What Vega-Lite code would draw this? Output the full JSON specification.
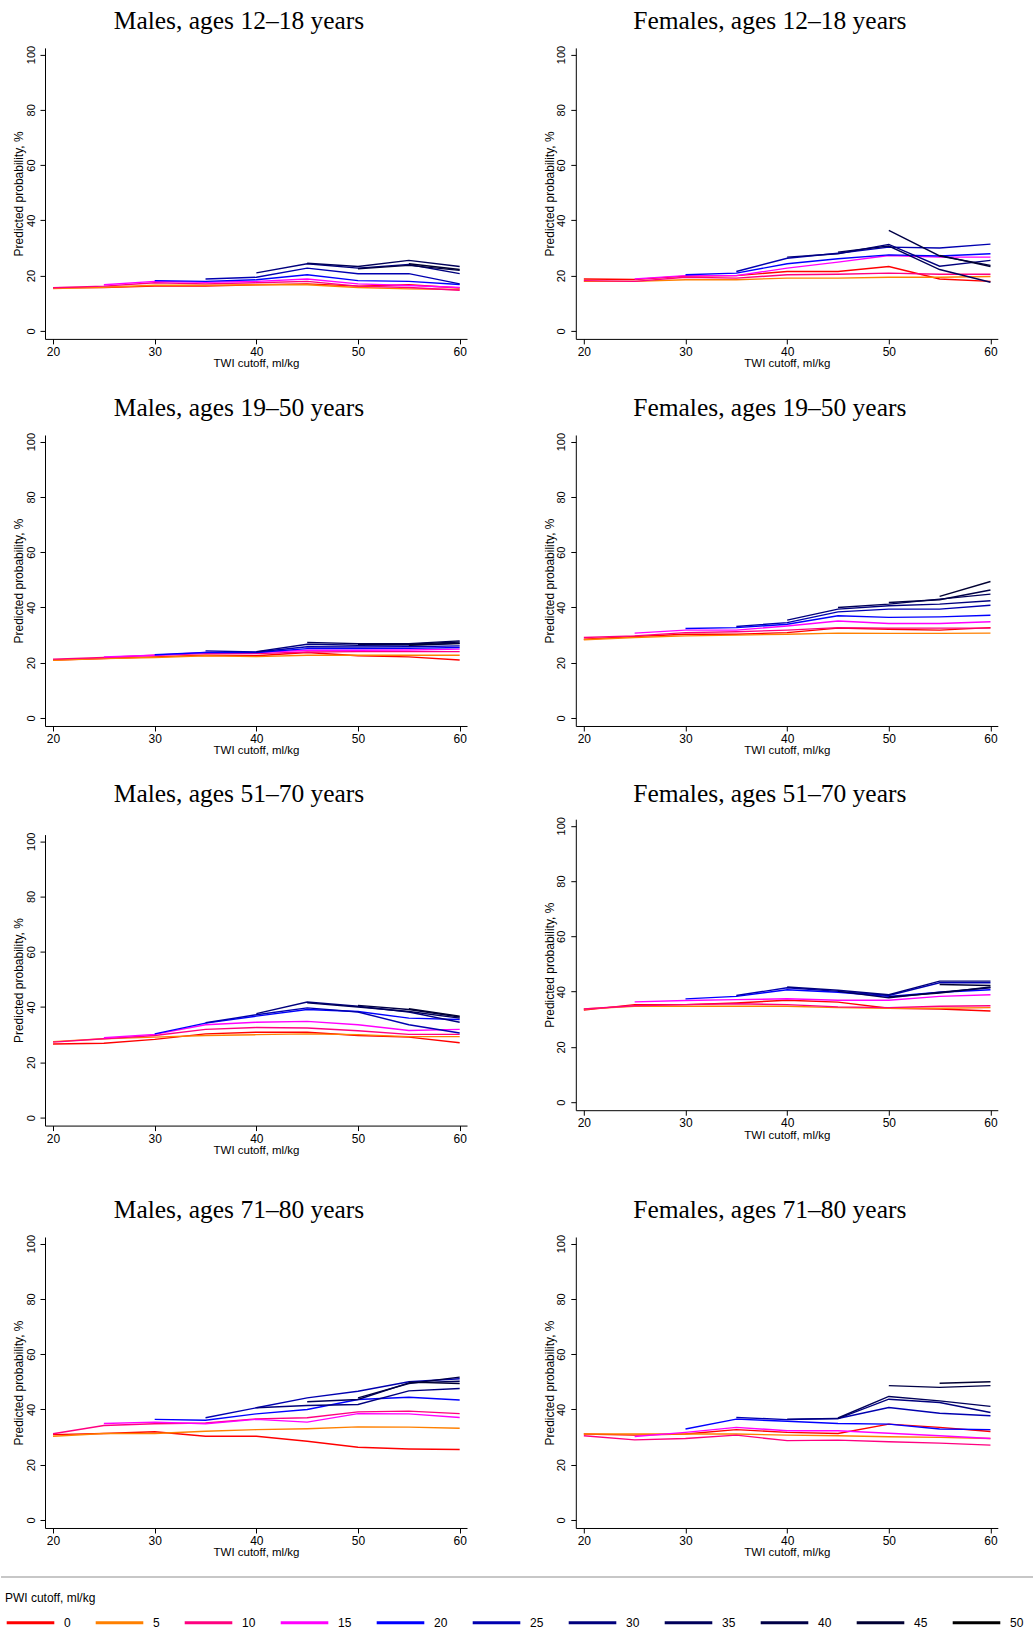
{
"$schema": "https://vega.github.io/schema/vega-lite/v6.json",
"padding": {"left": 0, "top": 8.9, "right": 0, "bottom": 0},
"config": {
  "view": {"stroke": null},
  "font": "Liberation Sans",
  "title": {"font": "Liberation Serif", "fontSize": 25.5, "fontWeight": "normal", "color": "#000000", "anchor": "middle", "frame": "group", "baseline": "alphabetic"},
  "axis": {"domainColor": "#000000", "domainWidth": 1, "tickColor": "#000000", "tickWidth": 1, "tickSize": 5, "labelColor": "#000000", "titleColor": "#000000", "grid": false, "titleFontWeight": "normal", "titleFontSize": 12, "labelFont": "Liberation Sans", "titleFont": "Liberation Sans", "labelFlush": false, "labelOverlap": false, "labelBound": false},
  "axisX": {"labelFontSize": 12, "labelBaseline": "alphabetic", "labelPadding": 11.5, "titleFontSize": 11.5, "titleX": 211, "titleY": 28, "titleBaseline": "alphabetic", "titleAlign": "center"},
  "axisY": {"labelFontSize": 11, "labelAngle": 270, "labelAlign": "center", "labelBaseline": "alphabetic", "labelPadding": 6, "titleAngle": 270, "titleX": -22.2, "titleY": 145.5, "titleAlign": "center", "titleBaseline": "alphabetic"},
  "legend": {"padding": 0, "titleFontSize": 12, "titleFontWeight": "normal", "titleColor": "#000000", "labelFontSize": 12, "labelColor": "#000000", "titleFont": "Liberation Sans", "labelFont": "Liberation Sans"}
},
"datasets": {
"m1": [
{"w":0,"t":20,"v":15.6},{"w":0,"t":25,"v":15.7},{"w":0,"t":30,"v":16.2},{"w":0,"t":35,"v":16.2},{"w":0,"t":40,"v":16.7},{"w":0,"t":45,"v":17.0},{"w":0,"t":50,"v":16.2},{"w":0,"t":55,"v":16.7},{"w":0,"t":60,"v":15.5},
{"w":5,"t":20,"v":15.3},{"w":5,"t":25,"v":15.8},{"w":5,"t":30,"v":16.5},{"w":5,"t":35,"v":16.5},{"w":5,"t":40,"v":16.7},{"w":5,"t":45,"v":16.7},{"w":5,"t":50,"v":15.7},{"w":5,"t":55,"v":15.2},{"w":5,"t":60,"v":15.0},
{"w":10,"t":20,"v":15.6},{"w":10,"t":25,"v":16.2},{"w":10,"t":30,"v":17.4},{"w":10,"t":35,"v":17.0},{"w":10,"t":40,"v":17.4},{"w":10,"t":45,"v":17.9},{"w":10,"t":50,"v":16.2},{"w":10,"t":55,"v":15.7},{"w":10,"t":60,"v":14.7},
{"w":15,"t":25,"v":16.7},{"w":15,"t":30,"v":17.9},{"w":15,"t":35,"v":17.6},{"w":15,"t":40,"v":17.9},{"w":15,"t":45,"v":18.8},{"w":15,"t":50,"v":17.0},{"w":15,"t":55,"v":16.4},{"w":15,"t":60,"v":15.7},
{"w":20,"t":30,"v":18.2},{"w":20,"t":35,"v":17.9},{"w":20,"t":40,"v":18.5},{"w":20,"t":45,"v":20.3},{"w":20,"t":50,"v":18.2},{"w":20,"t":55,"v":17.9},{"w":20,"t":60,"v":16.8},
{"w":25,"t":35,"v":18.8},{"w":25,"t":40,"v":19.4},{"w":25,"t":45,"v":22.7},{"w":25,"t":50,"v":20.7},{"w":25,"t":55,"v":20.7},{"w":25,"t":60,"v":17.0},
{"w":30,"t":40,"v":21.0},{"w":30,"t":45,"v":24.3},{"w":30,"t":50,"v":22.7},{"w":30,"t":55,"v":24.0},{"w":30,"t":60,"v":20.7},
{"w":35,"t":45,"v":24.5},{"w":35,"t":50,"v":23.3},{"w":35,"t":55,"v":25.5},{"w":35,"t":60,"v":23.3},
{"w":40,"t":50,"v":22.5},{"w":40,"t":55,"v":23.7},{"w":40,"t":60,"v":21.9},
{"w":45,"t":55,"v":24.3},{"w":45,"t":60,"v":22.2},
{"w":50,"t":60,"v":22.7}
],
"f1": [
{"w":0,"t":20,"v":18.8},{"w":0,"t":25,"v":18.6},{"w":0,"t":30,"v":19.8},{"w":0,"t":35,"v":20.0},{"w":0,"t":40,"v":21.5},{"w":0,"t":45,"v":21.5},{"w":0,"t":50,"v":23.3},{"w":0,"t":55,"v":18.8},{"w":0,"t":60,"v":17.9},
{"w":5,"t":20,"v":17.9},{"w":5,"t":25,"v":17.9},{"w":5,"t":30,"v":18.5},{"w":5,"t":35,"v":18.5},{"w":5,"t":40,"v":19.1},{"w":5,"t":45,"v":19.1},{"w":5,"t":50,"v":19.4},{"w":5,"t":55,"v":19.4},{"w":5,"t":60,"v":19.7},
{"w":10,"t":20,"v":18.2},{"w":10,"t":25,"v":17.9},{"w":10,"t":30,"v":19.4},{"w":10,"t":35,"v":19.1},{"w":10,"t":40,"v":20.3},{"w":10,"t":45,"v":20.5},{"w":10,"t":50,"v":20.9},{"w":10,"t":55,"v":20.5},{"w":10,"t":60,"v":20.5},
{"w":15,"t":25,"v":18.8},{"w":15,"t":30,"v":20.0},{"w":15,"t":35,"v":20.0},{"w":15,"t":40,"v":22.7},{"w":15,"t":45,"v":24.9},{"w":15,"t":50,"v":27.3},{"w":15,"t":55,"v":26.7},{"w":15,"t":60,"v":26.7},
{"w":20,"t":30,"v":20.3},{"w":20,"t":35,"v":20.9},{"w":20,"t":40,"v":24.3},{"w":20,"t":45,"v":26.1},{"w":20,"t":50,"v":27.5},{"w":20,"t":55,"v":27.1},{"w":20,"t":60,"v":27.9},
{"w":25,"t":35,"v":21.5},{"w":25,"t":40,"v":26.3},{"w":25,"t":45,"v":28.1},{"w":25,"t":50,"v":30.3},{"w":25,"t":55,"v":30.0},{"w":25,"t":60,"v":31.4},
{"w":30,"t":40,"v":26.7},{"w":30,"t":45,"v":27.9},{"w":30,"t":50,"v":31.3},{"w":30,"t":55,"v":23.4},{"w":30,"t":60,"v":25.5},
{"w":35,"t":45,"v":28.5},{"w":35,"t":50,"v":30.7},{"w":35,"t":55,"v":22.2},{"w":35,"t":60,"v":17.6},
{"w":40,"t":50,"v":36.4},{"w":40,"t":55,"v":27.1},{"w":40,"t":60,"v":23.7},
{"w":45,"t":55,"v":27.3},{"w":45,"t":60,"v":23.3},
{"w":50,"t":60,"v":23.5}
],
"m2": [
{"w":0,"t":20,"v":21.0},{"w":0,"t":25,"v":21.5},{"w":0,"t":30,"v":22.1},{"w":0,"t":35,"v":22.7},{"w":0,"t":40,"v":22.5},{"w":0,"t":45,"v":23.7},{"w":0,"t":50,"v":22.5},{"w":0,"t":55,"v":22.1},{"w":0,"t":60,"v":21.0},
{"w":5,"t":20,"v":20.9},{"w":5,"t":25,"v":21.5},{"w":5,"t":30,"v":21.9},{"w":5,"t":35,"v":22.5},{"w":5,"t":40,"v":22.2},{"w":5,"t":45,"v":22.7},{"w":5,"t":50,"v":22.7},{"w":5,"t":55,"v":22.7},{"w":5,"t":60,"v":22.7},
{"w":10,"t":20,"v":21.3},{"w":10,"t":25,"v":21.9},{"w":10,"t":30,"v":22.7},{"w":10,"t":35,"v":23.3},{"w":10,"t":40,"v":23.3},{"w":10,"t":45,"v":23.9},{"w":10,"t":50,"v":24.0},{"w":10,"t":55,"v":24.0},{"w":10,"t":60,"v":24.0},
{"w":15,"t":25,"v":22.1},{"w":15,"t":30,"v":22.7},{"w":15,"t":35,"v":23.7},{"w":15,"t":40,"v":23.7},{"w":15,"t":45,"v":24.5},{"w":15,"t":50,"v":24.5},{"w":15,"t":55,"v":24.6},{"w":15,"t":60,"v":24.9},
{"w":20,"t":30,"v":22.9},{"w":20,"t":35,"v":23.7},{"w":20,"t":40,"v":23.7},{"w":20,"t":45,"v":25.1},{"w":20,"t":50,"v":25.1},{"w":20,"t":55,"v":25.2},{"w":20,"t":60,"v":25.5},
{"w":25,"t":35,"v":24.3},{"w":25,"t":40,"v":23.9},{"w":25,"t":45,"v":25.8},{"w":25,"t":50,"v":25.7},{"w":25,"t":55,"v":25.8},{"w":25,"t":60,"v":26.1},
{"w":30,"t":40,"v":24.0},{"w":30,"t":45,"v":26.7},{"w":30,"t":50,"v":26.3},{"w":30,"t":55,"v":26.4},{"w":30,"t":60,"v":27.1},
{"w":35,"t":45,"v":27.3},{"w":35,"t":50,"v":26.9},{"w":35,"t":55,"v":26.9},{"w":35,"t":60,"v":27.9},
{"w":40,"t":50,"v":26.7},{"w":40,"t":55,"v":26.7},{"w":40,"t":60,"v":27.5},
{"w":45,"t":55,"v":26.3},{"w":45,"t":60,"v":26.9},
{"w":50,"t":60,"v":27.9}
],
"f2": [
{"w":0,"t":20,"v":28.5},{"w":0,"t":25,"v":29.5},{"w":0,"t":30,"v":30.3},{"w":0,"t":35,"v":30.3},{"w":0,"t":40,"v":30.9},{"w":0,"t":45,"v":32.5},{"w":0,"t":50,"v":32.1},{"w":0,"t":55,"v":31.8},{"w":0,"t":60,"v":32.7},
{"w":5,"t":20,"v":28.3},{"w":5,"t":25,"v":29.1},{"w":5,"t":30,"v":29.7},{"w":5,"t":35,"v":30.0},{"w":5,"t":40,"v":30.3},{"w":5,"t":45,"v":30.7},{"w":5,"t":50,"v":30.6},{"w":5,"t":55,"v":30.6},{"w":5,"t":60,"v":30.7},
{"w":10,"t":20,"v":29.1},{"w":10,"t":25,"v":29.7},{"w":10,"t":30,"v":30.9},{"w":10,"t":35,"v":31.2},{"w":10,"t":40,"v":31.8},{"w":10,"t":45,"v":32.7},{"w":10,"t":50,"v":32.5},{"w":10,"t":55,"v":32.5},{"w":10,"t":60,"v":32.5},
{"w":15,"t":25,"v":30.7},{"w":15,"t":30,"v":31.8},{"w":15,"t":35,"v":31.8},{"w":15,"t":40,"v":33.3},{"w":15,"t":45,"v":35.1},{"w":15,"t":50,"v":34.2},{"w":15,"t":55,"v":34.2},{"w":15,"t":60,"v":34.8},
{"w":20,"t":30,"v":32.4},{"w":20,"t":35,"v":32.7},{"w":20,"t":40,"v":33.9},{"w":20,"t":45,"v":37.0},{"w":20,"t":50,"v":36.4},{"w":20,"t":55,"v":36.6},{"w":20,"t":60,"v":37.2},
{"w":25,"t":35,"v":33.1},{"w":25,"t":40,"v":34.5},{"w":25,"t":45,"v":38.4},{"w":25,"t":50,"v":39.4},{"w":25,"t":55,"v":39.4},{"w":25,"t":60,"v":40.8},
{"w":30,"t":40,"v":35.4},{"w":30,"t":45,"v":39.4},{"w":30,"t":50,"v":40.6},{"w":30,"t":55,"v":41.2},{"w":30,"t":60,"v":42.4},
{"w":35,"t":45,"v":40.0},{"w":35,"t":50,"v":41.2},{"w":35,"t":55,"v":43.0},{"w":35,"t":60,"v":44.8},
{"w":40,"t":50,"v":41.8},{"w":40,"t":55,"v":42.8},{"w":40,"t":60,"v":46.3},
{"w":45,"t":55,"v":44.0},{"w":45,"t":60,"v":49.4},
{"w":50,"t":60,"v":45.4}
],
"m3": [
{"w":0,"t":20,"v":26.6},{"w":0,"t":25,"v":26.9},{"w":0,"t":30,"v":28.3},{"w":0,"t":35,"v":30.3},{"w":0,"t":40,"v":30.9},{"w":0,"t":45,"v":30.9},{"w":0,"t":50,"v":29.7},{"w":0,"t":55,"v":29.1},{"w":0,"t":60,"v":27.1},
{"w":5,"t":20,"v":27.5},{"w":5,"t":25,"v":28.5},{"w":5,"t":30,"v":29.1},{"w":5,"t":35,"v":29.7},{"w":5,"t":40,"v":30.0},{"w":5,"t":45,"v":30.3},{"w":5,"t":50,"v":30.0},{"w":5,"t":55,"v":29.3},{"w":5,"t":60,"v":29.3},
{"w":10,"t":20,"v":27.3},{"w":10,"t":25,"v":28.5},{"w":10,"t":30,"v":29.7},{"w":10,"t":35,"v":31.9},{"w":10,"t":40,"v":32.6},{"w":10,"t":45,"v":32.4},{"w":10,"t":50,"v":31.4},{"w":10,"t":55,"v":30.1},{"w":10,"t":60,"v":30.1},
{"w":15,"t":25,"v":28.9},{"w":15,"t":30,"v":30.1},{"w":15,"t":35,"v":33.6},{"w":15,"t":40,"v":34.5},{"w":15,"t":45,"v":34.8},{"w":15,"t":50,"v":33.6},{"w":15,"t":55,"v":31.5},{"w":15,"t":60,"v":31.9},
{"w":20,"t":30,"v":30.3},{"w":20,"t":35,"v":34.2},{"w":20,"t":40,"v":36.7},{"w":20,"t":45,"v":39.1},{"w":20,"t":50,"v":38.4},{"w":20,"t":55,"v":36.0},{"w":20,"t":60,"v":35.5},
{"w":25,"t":35,"v":34.3},{"w":25,"t":40,"v":37.2},{"w":25,"t":45,"v":39.7},{"w":25,"t":50,"v":38.2},{"w":25,"t":55,"v":33.6},{"w":25,"t":60,"v":30.6},
{"w":30,"t":40,"v":37.6},{"w":30,"t":45,"v":41.8},{"w":30,"t":50,"v":40.3},{"w":30,"t":55,"v":38.2},{"w":30,"t":60,"v":34.5},
{"w":35,"t":45,"v":41.5},{"w":35,"t":50,"v":40.0},{"w":35,"t":55,"v":38.4},{"w":35,"t":60,"v":36.0},
{"w":40,"t":50,"v":40.6},{"w":40,"t":55,"v":39.1},{"w":40,"t":60,"v":36.4},
{"w":45,"t":55,"v":39.4},{"w":45,"t":60,"v":36.7},
{"w":50,"t":60,"v":36.4}
],
"f3": [
{"w":0,"t":20,"v":33.3},{"w":0,"t":25,"v":35.3},{"w":0,"t":30,"v":35.3},{"w":0,"t":35,"v":35.9},{"w":0,"t":40,"v":36.9},{"w":0,"t":45,"v":36.2},{"w":0,"t":50,"v":34.0},{"w":0,"t":55,"v":33.7},{"w":0,"t":60,"v":33.0},
{"w":5,"t":20,"v":33.7},{"w":5,"t":25,"v":34.7},{"w":5,"t":30,"v":34.7},{"w":5,"t":35,"v":34.7},{"w":5,"t":40,"v":34.7},{"w":5,"t":45,"v":34.2},{"w":5,"t":50,"v":34.0},{"w":5,"t":55,"v":34.0},{"w":5,"t":60,"v":34.2},
{"w":10,"t":20,"v":33.7},{"w":10,"t":25,"v":34.9},{"w":10,"t":30,"v":35.3},{"w":10,"t":35,"v":35.6},{"w":10,"t":40,"v":35.3},{"w":10,"t":45,"v":34.5},{"w":10,"t":50,"v":34.2},{"w":10,"t":55,"v":34.7},{"w":10,"t":60,"v":34.9},
{"w":15,"t":25,"v":36.3},{"w":15,"t":30,"v":36.8},{"w":15,"t":35,"v":37.1},{"w":15,"t":40,"v":37.4},{"w":15,"t":45,"v":36.9},{"w":15,"t":50,"v":36.9},{"w":15,"t":55,"v":38.3},{"w":15,"t":60,"v":38.9},
{"w":20,"t":30,"v":37.4},{"w":20,"t":35,"v":38.3},{"w":20,"t":40,"v":40.7},{"w":20,"t":45,"v":39.8},{"w":20,"t":50,"v":38.3},{"w":20,"t":55,"v":39.8},{"w":20,"t":60,"v":40.7},
{"w":25,"t":35,"v":38.6},{"w":25,"t":40,"v":41.4},{"w":25,"t":45,"v":40.1},{"w":25,"t":50,"v":38.6},{"w":25,"t":55,"v":43.2},{"w":25,"t":60,"v":43.2},
{"w":30,"t":40,"v":41.7},{"w":30,"t":45,"v":40.5},{"w":30,"t":50,"v":38.9},{"w":30,"t":55,"v":43.8},{"w":30,"t":60,"v":43.8},
{"w":35,"t":45,"v":40.1},{"w":35,"t":50,"v":37.8},{"w":35,"t":55,"v":39.8},{"w":35,"t":60,"v":41.4},
{"w":40,"t":50,"v":38.1},{"w":40,"t":55,"v":39.5},{"w":40,"t":60,"v":41.7},
{"w":45,"t":55,"v":42.6},{"w":45,"t":60,"v":42.2},
{"w":50,"t":60,"v":42.0}
],
"m4": [
{"w":0,"t":20,"v":30.9},{"w":0,"t":25,"v":31.3},{"w":0,"t":30,"v":31.9},{"w":0,"t":35,"v":30.3},{"w":0,"t":40,"v":30.3},{"w":0,"t":45,"v":28.5},{"w":0,"t":50,"v":26.3},{"w":0,"t":55,"v":25.7},{"w":0,"t":60,"v":25.5},
{"w":5,"t":20,"v":30.3},{"w":5,"t":25,"v":31.3},{"w":5,"t":30,"v":31.3},{"w":5,"t":35,"v":32.1},{"w":5,"t":40,"v":32.7},{"w":5,"t":45,"v":33.0},{"w":5,"t":50,"v":33.7},{"w":5,"t":55,"v":33.6},{"w":5,"t":60,"v":33.2},
{"w":10,"t":20,"v":31.2},{"w":10,"t":25,"v":34.2},{"w":10,"t":30,"v":34.8},{"w":10,"t":35,"v":35.1},{"w":10,"t":40,"v":36.6},{"w":10,"t":45,"v":37.0},{"w":10,"t":50,"v":39.1},{"w":10,"t":55,"v":39.4},{"w":10,"t":60,"v":38.5},
{"w":15,"t":25,"v":34.9},{"w":15,"t":30,"v":35.4},{"w":15,"t":35,"v":34.8},{"w":15,"t":40,"v":36.4},{"w":15,"t":45,"v":35.4},{"w":15,"t":50,"v":38.5},{"w":15,"t":55,"v":38.4},{"w":15,"t":60,"v":37.1},
{"w":20,"t":30,"v":36.4},{"w":20,"t":35,"v":36.1},{"w":20,"t":40,"v":38.4},{"w":20,"t":45,"v":40.0},{"w":20,"t":50,"v":43.6},{"w":20,"t":55,"v":44.4},{"w":20,"t":60,"v":43.4},
{"w":25,"t":35,"v":37.0},{"w":25,"t":40,"v":40.6},{"w":25,"t":45,"v":44.2},{"w":25,"t":50,"v":46.6},{"w":25,"t":55,"v":50.0},{"w":25,"t":60,"v":51.1},
{"w":30,"t":40,"v":40.6},{"w":30,"t":45,"v":41.4},{"w":30,"t":50,"v":41.8},{"w":30,"t":55,"v":46.7},{"w":30,"t":60,"v":47.6},
{"w":35,"t":45,"v":42.8},{"w":35,"t":50,"v":43.6},{"w":35,"t":55,"v":49.6},{"w":35,"t":60,"v":50.2},
{"w":40,"t":50,"v":44.2},{"w":40,"t":55,"v":49.4},{"w":40,"t":60,"v":51.7},
{"w":45,"t":55,"v":49.9},{"w":45,"t":60,"v":49.4},
{"w":50,"t":60,"v":50.8}
],
"f4": [
{"w":0,"t":20,"v":31.1},{"w":0,"t":25,"v":30.7},{"w":0,"t":30,"v":31.1},{"w":0,"t":35,"v":32.7},{"w":0,"t":40,"v":31.7},{"w":0,"t":45,"v":31.3},{"w":0,"t":50,"v":34.7},{"w":0,"t":55,"v":33.5},{"w":0,"t":60,"v":32.0},
{"w":5,"t":20,"v":31.1},{"w":5,"t":25,"v":31.1},{"w":5,"t":30,"v":31.1},{"w":5,"t":35,"v":31.1},{"w":5,"t":40,"v":30.7},{"w":5,"t":45,"v":30.5},{"w":5,"t":50,"v":30.1},{"w":5,"t":55,"v":29.9},{"w":5,"t":60,"v":29.5},
{"w":10,"t":20,"v":30.5},{"w":10,"t":25,"v":29.0},{"w":10,"t":30,"v":29.5},{"w":10,"t":35,"v":30.7},{"w":10,"t":40,"v":28.7},{"w":10,"t":45,"v":28.9},{"w":10,"t":50,"v":28.3},{"w":10,"t":55,"v":27.8},{"w":10,"t":60,"v":27.1},
{"w":15,"t":25,"v":30.2},{"w":15,"t":30,"v":31.7},{"w":15,"t":35,"v":33.5},{"w":15,"t":40,"v":32.3},{"w":15,"t":45,"v":32.3},{"w":15,"t":50,"v":31.4},{"w":15,"t":55,"v":30.5},{"w":15,"t":60,"v":29.5},
{"w":20,"t":30,"v":32.9},{"w":20,"t":35,"v":36.5},{"w":20,"t":40,"v":35.7},{"w":20,"t":45,"v":34.9},{"w":20,"t":50,"v":34.7},{"w":20,"t":55,"v":32.9},{"w":20,"t":60,"v":32.7},
{"w":25,"t":35,"v":37.1},{"w":25,"t":40,"v":36.3},{"w":25,"t":45,"v":36.7},{"w":25,"t":50,"v":40.7},{"w":25,"t":55,"v":38.6},{"w":25,"t":60,"v":37.7},
{"w":30,"t":40,"v":36.5},{"w":30,"t":45,"v":36.7},{"w":30,"t":50,"v":43.7},{"w":30,"t":55,"v":42.5},{"w":30,"t":60,"v":38.9},
{"w":35,"t":45,"v":36.9},{"w":35,"t":50,"v":44.7},{"w":35,"t":55,"v":43.1},{"w":35,"t":60,"v":41.1},
{"w":40,"t":50,"v":48.6},{"w":40,"t":55,"v":48.0},{"w":40,"t":60,"v":48.6},
{"w":45,"t":55,"v":49.5},{"w":45,"t":60,"v":50.0},
{"w":50,"t":60,"v":49.8}
]
},
"vconcat": [
 {"vconcat": [
  {"vconcat": [
   {"vconcat": [
    {"hconcat": [
     {"width": 422, "height": 291, "title": {"text": "Males, ages 12–18 years", "offset": 10.6, "dx": -17}, "data": {"name": "m1"}, "mark": {"type": "line", "strokeWidth": 1.4},
      "encoding": {"x": {"field": "t", "type": "quantitative", "scale": {"domain": [19.21, 60.72], "nice": false, "zero": false}, "axis": {"values": [20,30,40,50,60], "title": "TWI cutoff, ml/kg"}},
       "y": {"field": "v", "type": "quantitative", "scale": {"domain": [-2.9, 102.4], "nice": false, "zero": false}, "axis": {"values": [0,20,40,60,80,100], "title": "Predicted probability, %"}},
       "color": {"field": "w", "type": "ordinal", "scale": {"domain": [0,5,10,15,20,25,30,35,40,45,50], "range": ["#FF0000","#FF8000","#FF0080","#FF00FF","#0000FF","#0000B0","#00007D","#00005A","#000046","#000032","#000000"]},
        "legend": {"title": "PWI cutoff, ml/kg", "orient": "none", "legendX": -40, "legendY": 1545, "direction": "horizontal", "columns": 11, "symbolType": "stroke", "symbolSize": 2266, "symbolStrokeWidth": 3, "labelOffset": 8, "columnPadding": 18, "titlePadding": -8}}}},
     {"width": 422, "height": 291, "title": {"text": "Females, ages 12–18 years", "offset": 10.6, "dx": -17}, "data": {"name": "f1"}, "mark": {"type": "line", "strokeWidth": 1.4},
      "encoding": {"x": {"field": "t", "type": "quantitative", "scale": {"domain": [19.21, 60.72], "nice": false, "zero": false}, "axis": {"values": [20,30,40,50,60], "title": "TWI cutoff, ml/kg"}},
       "y": {"field": "v", "type": "quantitative", "scale": {"domain": [-2.9, 102.4], "nice": false, "zero": false}, "axis": {"values": [0,20,40,60,80,100], "title": "Predicted probability, %"}},
       "color": {"field": "w", "type": "ordinal", "scale": {"domain": [0,5,10,15,20,25,30,35,40,45,50], "range": ["#FF0000","#FF8000","#FF0080","#FF00FF","#0000FF","#0000B0","#00007D","#00005A","#000046","#000032","#000000"]},
        "legend": {"title": "PWI cutoff, ml/kg", "orient": "none", "legendX": -40, "legendY": 1545, "direction": "horizontal", "columns": 11, "symbolType": "stroke", "symbolSize": 2266, "symbolStrokeWidth": 3, "labelOffset": 8, "columnPadding": 18, "titlePadding": -8}}}}
    ], "spacing": 75.8},
    {"hconcat": [
     {"width": 422, "height": 291, "title": {"text": "Males, ages 19–50 years", "offset": 10.6, "dx": -17}, "data": {"name": "m2"}, "mark": {"type": "line", "strokeWidth": 1.4},
      "encoding": {"x": {"field": "t", "type": "quantitative", "scale": {"domain": [19.21, 60.72], "nice": false, "zero": false}, "axis": {"values": [20,30,40,50,60], "title": "TWI cutoff, ml/kg"}},
       "y": {"field": "v", "type": "quantitative", "scale": {"domain": [-2.9, 102.4], "nice": false, "zero": false}, "axis": {"values": [0,20,40,60,80,100], "title": "Predicted probability, %"}},
       "color": {"field": "w", "type": "ordinal", "scale": {"domain": [0,5,10,15,20,25,30,35,40,45,50], "range": ["#FF0000","#FF8000","#FF0080","#FF00FF","#0000FF","#0000B0","#00007D","#00005A","#000046","#000032","#000000"]},
        "legend": {"title": "PWI cutoff, ml/kg", "orient": "none", "legendX": -40, "legendY": 1545, "direction": "horizontal", "columns": 11, "symbolType": "stroke", "symbolSize": 2266, "symbolStrokeWidth": 3, "labelOffset": 8, "columnPadding": 18, "titlePadding": -8}}}},
     {"width": 422, "height": 291, "title": {"text": "Females, ages 19–50 years", "offset": 10.6, "dx": -17}, "data": {"name": "f2"}, "mark": {"type": "line", "strokeWidth": 1.4},
      "encoding": {"x": {"field": "t", "type": "quantitative", "scale": {"domain": [19.21, 60.72], "nice": false, "zero": false}, "axis": {"values": [20,30,40,50,60], "title": "TWI cutoff, ml/kg"}},
       "y": {"field": "v", "type": "quantitative", "scale": {"domain": [-2.9, 102.4], "nice": false, "zero": false}, "axis": {"values": [0,20,40,60,80,100], "title": "Predicted probability, %"}},
       "color": {"field": "w", "type": "ordinal", "scale": {"domain": [0,5,10,15,20,25,30,35,40,45,50], "range": ["#FF0000","#FF8000","#FF0080","#FF00FF","#0000FF","#0000B0","#00007D","#00005A","#000046","#000032","#000000"]},
        "legend": {"title": "PWI cutoff, ml/kg", "orient": "none", "legendX": -40, "legendY": 1545, "direction": "horizontal", "columns": 11, "symbolType": "stroke", "symbolSize": 2266, "symbolStrokeWidth": 3, "labelOffset": 8, "columnPadding": 18, "titlePadding": -8}}}}
    ], "spacing": 75.8}
   ], "spacing": 26.1},
   {"hconcat": [
     {"vconcat": [
       {"width": 422, "height": 1, "data": {"values": [{}]}, "mark": {"type": "point", "size": 0, "opacity": 0}, "encoding": {}},
       {"width": 422, "height": 291, "data": {"name": "m3"}, "mark": {"type": "line", "strokeWidth": 1.4},
        "encoding": {"x": {"field": "t", "type": "quantitative", "scale": {"domain": [19.21, 60.72], "nice": false, "zero": false}, "axis": {"values": [20,30,40,50,60], "title": "TWI cutoff, ml/kg"}},
         "y": {"field": "v", "type": "quantitative", "scale": {"domain": [-2.9, 102.4], "nice": false, "zero": false}, "axis": {"values": [0,20,40,60,80,100], "title": "Predicted probability, %"}},
         "color": {"field": "w", "type": "ordinal", "scale": {"domain": [0,5,10,15,20,25,30,35,40,45,50], "range": ["#FF0000","#FF8000","#FF0080","#FF00FF","#0000FF","#0000B0","#00007D","#00005A","#000046","#000032","#000000"]},
          "legend": {"title": "PWI cutoff, ml/kg", "orient": "none", "legendX": -40, "legendY": 1545, "direction": "horizontal", "columns": 11, "symbolType": "stroke", "symbolSize": 2266, "symbolStrokeWidth": 3, "labelOffset": 8, "columnPadding": 18, "titlePadding": -8}}}}
     ], "spacing": 11.4, "title": {"text": "Males, ages 51–70 years", "anchor": "middle", "frame": "group", "offset": 11.2, "dx": 194}},
     {"width": 422, "height": 291, "title": {"text": "Females, ages 51–70 years", "offset": 9.2, "dx": -17}, "data": {"name": "f3"}, "mark": {"type": "line", "strokeWidth": 1.4},
      "encoding": {"x": {"field": "t", "type": "quantitative", "scale": {"domain": [19.21, 60.72], "nice": false, "zero": false}, "axis": {"values": [20,30,40,50,60], "title": "TWI cutoff, ml/kg"}},
       "y": {"field": "v", "type": "quantitative", "scale": {"domain": [-2.9, 102.4], "nice": false, "zero": false}, "axis": {"values": [0,20,40,60,80,100], "title": "Predicted probability, %"}},
       "color": {"field": "w", "type": "ordinal", "scale": {"domain": [0,5,10,15,20,25,30,35,40,45,50], "range": ["#FF0000","#FF8000","#FF0080","#FF00FF","#0000FF","#0000B0","#00007D","#00005A","#000046","#000032","#000000"]},
        "legend": {"title": "PWI cutoff, ml/kg", "orient": "none", "legendX": -40, "legendY": 1545, "direction": "horizontal", "columns": 11, "symbolType": "stroke", "symbolSize": 2266, "symbolStrokeWidth": 3, "labelOffset": 8, "columnPadding": 18, "titlePadding": -8}}}}
   ], "spacing": 75.8}
  ], "spacing": 24.3},
  {"hconcat": [
     {"width": 422, "height": 291, "title": {"text": "Males, ages 71–80 years", "offset": 10.6, "dx": -17}, "data": {"name": "m4"}, "mark": {"type": "line", "strokeWidth": 1.4},
      "encoding": {"x": {"field": "t", "type": "quantitative", "scale": {"domain": [19.21, 60.72], "nice": false, "zero": false}, "axis": {"values": [20,30,40,50,60], "title": "TWI cutoff, ml/kg"}},
       "y": {"field": "v", "type": "quantitative", "scale": {"domain": [-2.9, 102.4], "nice": false, "zero": false}, "axis": {"values": [0,20,40,60,80,100], "title": "Predicted probability, %"}},
       "color": {"field": "w", "type": "ordinal", "scale": {"domain": [0,5,10,15,20,25,30,35,40,45,50], "range": ["#FF0000","#FF8000","#FF0080","#FF00FF","#0000FF","#0000B0","#00007D","#00005A","#000046","#000032","#000000"]},
        "legend": {"title": "PWI cutoff, ml/kg", "orient": "none", "legendX": -40, "legendY": 1545, "direction": "horizontal", "columns": 11, "symbolType": "stroke", "symbolSize": 2266, "symbolStrokeWidth": 3, "labelOffset": 8, "columnPadding": 18, "titlePadding": -8}}}},
     {"width": 422, "height": 291, "title": {"text": "Females, ages 71–80 years", "offset": 10.6, "dx": -17}, "data": {"name": "f4"}, "mark": {"type": "line", "strokeWidth": 1.4},
      "encoding": {"x": {"field": "t", "type": "quantitative", "scale": {"domain": [19.21, 60.72], "nice": false, "zero": false}, "axis": {"values": [20,30,40,50,60], "title": "TWI cutoff, ml/kg"}},
       "y": {"field": "v", "type": "quantitative", "scale": {"domain": [-2.9, 102.4], "nice": false, "zero": false}, "axis": {"values": [0,20,40,60,80,100], "title": "Predicted probability, %"}},
       "color": {"field": "w", "type": "ordinal", "scale": {"domain": [0,5,10,15,20,25,30,35,40,45,50], "range": ["#FF0000","#FF8000","#FF0080","#FF00FF","#0000FF","#0000B0","#00007D","#00005A","#000046","#000032","#000000"]},
        "legend": {"title": "PWI cutoff, ml/kg", "orient": "none", "legendX": -40, "legendY": 1545, "direction": "horizontal", "columns": 11, "symbolType": "stroke", "symbolSize": 2266, "symbolStrokeWidth": 3, "labelOffset": 8, "columnPadding": 18, "titlePadding": -8}}}}
  ], "spacing": 75.8}
 ], "spacing": 41.1},
 {"width": 988.3, "height": 2, "data": {"values": [{"a": -0.04447, "b": 1, "c": 0.5}]}, "mark": {"type": "rule", "color": "#b4b4b4", "strokeWidth": 1.5, "clip": false},
  "encoding": {"x": {"field": "a", "type": "quantitative", "scale": {"domain": [0, 1], "nice": false, "zero": false}, "axis": null}, "x2": {"field": "b"}, "y": {"field": "c", "type": "quantitative", "scale": {"domain": [0, 1], "nice": false}, "axis": null}}}
],
"spacing": 17
}
